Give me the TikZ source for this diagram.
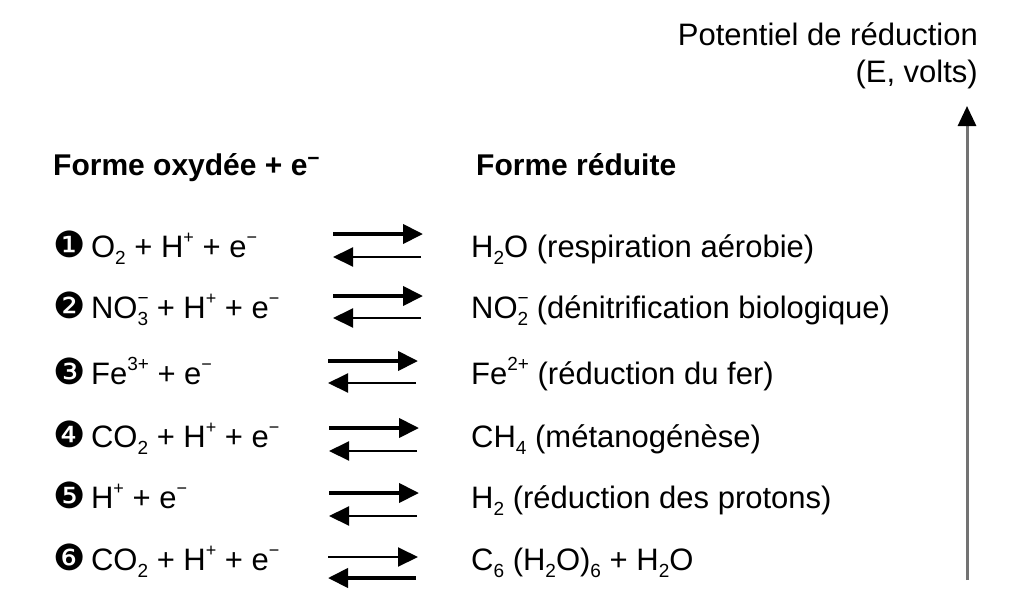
\documentclass[tikz,border=0pt]{standalone}
\usepackage{fontspec}
\setmainfont{Liberation Sans}
\newfontfamily\dvfont{DejaVu Sans}
\usetikzlibrary{arrows.meta}
\newcommand\chsub[1]{\raisebox{-0.45ex}{\fontsize{19}{20}\selectfont #1}}
\newcommand\chsup[1]{\raisebox{0.85ex}{\fontsize{19}{20}\selectfont #1}}
\newcommand\tinysup[1]{\raisebox{0.8ex}{\fontsize{18}{20}\selectfont #1}}
\newcommand\ionsb[2]{\rlap{\chsup{#2}}\chsub{#1}}
\newcommand\emin{e\tinysup{−}}
\newcommand\hplus{H\tinysup{+}}
\newcommand\num[1]{{\dvfont\fontsize{36}{40}\selectfont #1}\hspace{-3pt}}
\begin{document}
\begin{tikzpicture}[x=1pt,y=-1pt,
  txt/.style={anchor=base west,inner sep=0pt,font=\fontsize{31}{36}\selectfont},
  ttl/.style={txt,font=\fontsize{30}{36}\selectfont\bfseries},
  fwdthick/.style={line width=4pt,-{Triangle[length=20pt,width=19pt]}},
  fwdthin/.style={line width=2pt,-{Triangle[length=20pt,width=19pt]}},
  axis/.style={line width=3pt,draw=black!55,-{Triangle[length=20pt,width=18pt,fill=black,color=black]}}]
\useasboundingbox (0,0) rectangle (1014,608);
\node[anchor=base east,inner sep=0pt,font=\fontsize{31}{36}\selectfont] (pot) at (978,45) {Potentiel de réduction};
\node[anchor=base east,inner sep=0pt,font=\fontsize{31}{36}\selectfont] (ev) at (978,82) {(E, volts)};
\coordinate (ax0) at (967,580);
\coordinate (ax1) at (967,106);
\draw[axis] (ax0) -- (ax1);
\node[ttl] (t1) at (53,175) {Forme oxydée + e\textsuperscript{−}};
\node[ttl] (t2) at (476,175) {Forme réduite};
% rows
\node[txt] (l1) at (53,257) {\num{❶} O\chsub{2} + \hplus{} + \emin};
\node[txt] (r1) at (471,257) {H\chsub{2}O (respiration aérobie)};
\node[txt] (l2) at (53,318) {\num{❷} NO\ionsb{3}{−} + \hplus{} + \emin};
\node[txt] (r2) at (471,318) {NO\ionsb{2}{−} (dénitrification biologique)};
\node[txt] (l3) at (53,384) {\num{❸} Fe\chsup{3+} + \emin};
\node[txt] (r3) at (471,384) {Fe\chsup{2+} (réduction du fer)};
\node[txt] (l4) at (53,447) {\num{❹} CO\chsub{2} + \hplus{} + \emin};
\node[txt] (r4) at (471,447) {CH\chsub{4} (métanogénèse)};
\node[txt] (l5) at (53,508) {\num{❺} \hplus{} + \emin};
\node[txt] (r5) at (471,508) {H\chsub{2} (réduction des protons)};
\node[txt] (l6) at (53,570) {\num{❻} CO\chsub{2} + \hplus{} + \emin};
\node[txt] (r6) at (471,570) {C\chsub{6} (H\chsub{2}O)\chsub{6} + H\chsub{2}O};
% arrows
\coordinate (a1l) at (333,234); \coordinate (a1r) at (423,234);
\coordinate (b1l) at (333,257); \coordinate (b1r) at (421,257);
\coordinate (a2l) at (333,296); \coordinate (a2r) at (423,296);
\coordinate (b2l) at (333,318); \coordinate (b2r) at (421,318);
\coordinate (a3l) at (328,361); \coordinate (a3r) at (418,361);
\coordinate (b3l) at (328,383); \coordinate (b3r) at (416,383);
\coordinate (a4l) at (329,428); \coordinate (a4r) at (419,428);
\coordinate (b4l) at (329,451); \coordinate (b4r) at (417,451);
\coordinate (a5l) at (329,493); \coordinate (a5r) at (419,493);
\coordinate (b5l) at (329,516); \coordinate (b5r) at (417,516);
\coordinate (a6l) at (328,557); \coordinate (a6r) at (418,557);
\coordinate (b6l) at (328,578); \coordinate (b6r) at (416,578);
\foreach \i in {1,...,5}{
  \draw[fwdthick] (a\i l) -- (a\i r);
  \draw[fwdthin] (b\i r) -- (b\i l);
}
\draw[fwdthin] (a6l) -- (a6r);
\draw[fwdthick] (b6r) -- (b6l);
\end{tikzpicture}
\end{document}
